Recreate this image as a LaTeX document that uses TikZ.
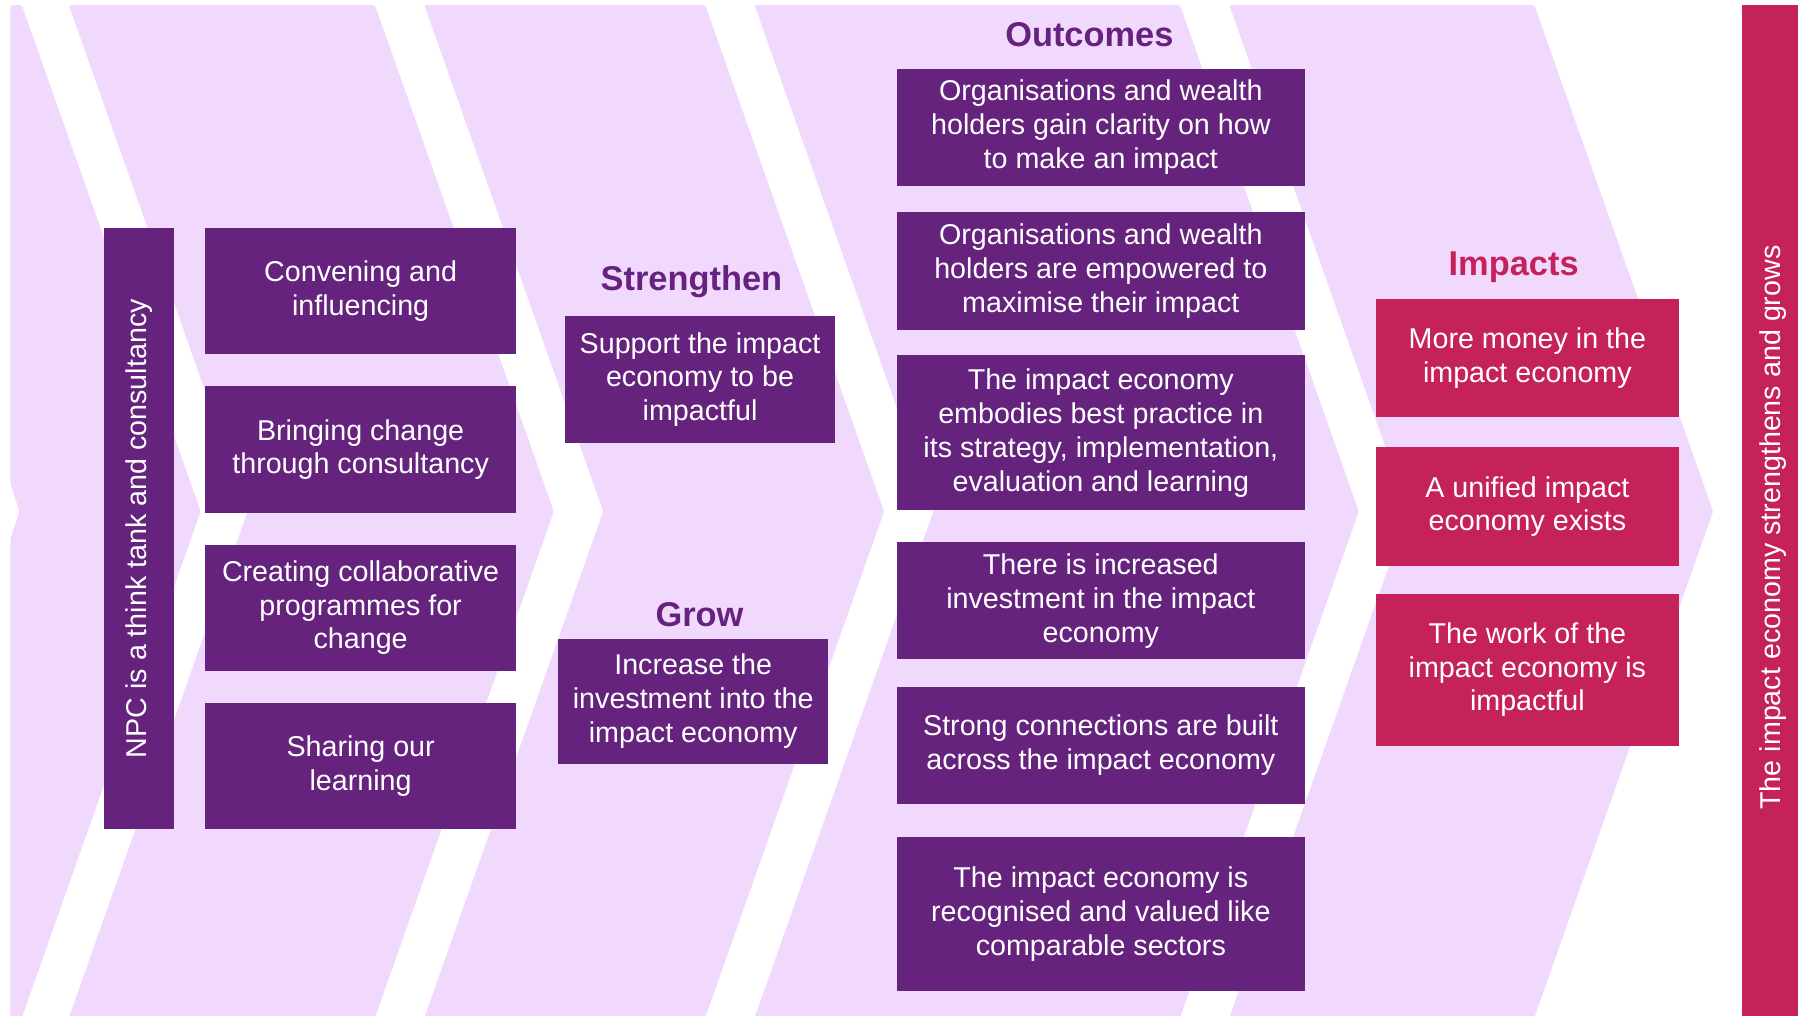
\documentclass[tikz,border=0pt]{standalone}
\usepackage{fontspec}
\setmainfont{Liberation Sans}

\definecolor{lav}{HTML}{F1D9FD}
\definecolor{npcpurple}{HTML}{65237E}
\definecolor{npcmagenta}{HTML}{C5215B}

\newcommand\bodyfont{\fontsize{25}{29.5}\selectfont}
\newcommand\headfont{\fontsize{30}{36}\selectfont\bfseries}

% one lavender chevron band: left and right x of its top edge
\newcommand\chevronband[2]{%
  \fill[lav,rounded corners=1.5pt] (#1,4.4) -- (#2,4.4) -- (#2+156,446)
    -- (#2,887.6) -- (#1,887.6) -- (#1+156,446) -- cycle;}

\begin{document}
\begin{tikzpicture}[x=1pt,y=-1pt,
  card/.style={fill=npcpurple, text=white, align=center, inner sep=0pt, font=\bodyfont},
  impactcard/.style={card, fill=npcmagenta},
  heading/.style={font=\headfont, text=npcpurple, inner sep=0pt},
  impactheading/.style={heading, text=npcmagenta}]

\useasboundingbox (0,0) rectangle (1568,886);
\clip (0,0) rectangle (1568,886);

% background chevrons
\fill[lav,rounded corners=1.5pt] (9,4.4) -- (19,4.4) -- (175,446) -- (19,887.6)
  -- (9,887.6) -- (9,470) -- (17,446) -- (9,422) -- cycle;
\chevronband{60}{327}
\chevronband{370}{615}
\chevronband{658}{1029}
\chevronband{1072}{1338}

% who we are
\node[card, rotate=90, minimum width=524pt, minimum height=61pt] (npc) at (121.5,461)
  {NPC is a think tank and consultancy};

% activities
\node[card, minimum width=271pt, minimum height=110pt] (act1) at (314.5,254)
  {Convening and\\influencing};
\node[card, minimum width=271pt, minimum height=110pt] (act2) at (314.5,392)
  {Bringing change\\through consultancy};
\node[card, minimum width=271pt, minimum height=110pt] (act3) at (314.5,530)
  {Creating collaborative\\programmes for\\change};
\node[card, minimum width=271pt, minimum height=110pt] (act4) at (314.5,668)
  {Sharing our\\learning};

% aims
\node[heading] (strengthen) at (603,246) {Strengthen};
\node[card, minimum width=235pt, minimum height=110pt] (aim1) at (610.5,331)
  {Support the impact\\economy to be\\impactful};
\node[heading] (grow) at (610,536) {Grow};
\node[card, minimum width=235pt, minimum height=109pt] (aim2) at (604.5,611.5)
  {Increase the\\investment into the\\impact economy};

% outcomes
\node[heading] (outcomes) at (950,30) {Outcomes};
\node[card, minimum width=356pt, minimum height=102pt] (out1) at (960,111)
  {Organisations and wealth\\holders gain clarity on how\\to make an impact};
\node[card, minimum width=356pt, minimum height=103pt] (out2) at (960,236.5)
  {Organisations and wealth\\holders are empowered to\\maximise their impact};
\node[card, minimum width=356pt, minimum height=135pt] (out3) at (960,377.5)
  {The impact economy\\embodies best practice in\\its strategy, implementation,\\evaluation and learning};
\node[card, minimum width=356pt, minimum height=102pt] (out4) at (960,524)
  {There is increased\\investment in the impact\\economy};
\node[card, minimum width=356pt, minimum height=102pt] (out5) at (960,650)
  {Strong connections are built\\across the impact economy};
\node[card, minimum width=356pt, minimum height=134pt] (out6) at (960,797)
  {The impact economy is\\recognised and valued like\\comparable sectors};

% impacts
\node[impactheading] (impacts) at (1320,233) {Impacts};
\node[impactcard, minimum width=264pt, minimum height=103pt] (imp1) at (1332,312.5)
  {More money in the\\impact economy};
\node[impactcard, minimum width=264pt, minimum height=103.5pt] (imp2) at (1332,441.8)
  {A unified impact\\economy exists};
\node[impactcard, minimum width=264pt, minimum height=132.5pt] (imp3) at (1332,584)
  {The work of the\\impact economy is\\impactful};

% overall goal
\node[fill=npcmagenta, inner sep=0pt, minimum width=60pt, minimum height=882pt,
  anchor=north west] (goalbar) at (1519,4.4) {};
\node[text=white, font=\bodyfont, rotate=90, inner sep=0pt] (goal) at (1546,460)
  {The impact economy strengthens and grows};

\end{tikzpicture}
\end{document}
